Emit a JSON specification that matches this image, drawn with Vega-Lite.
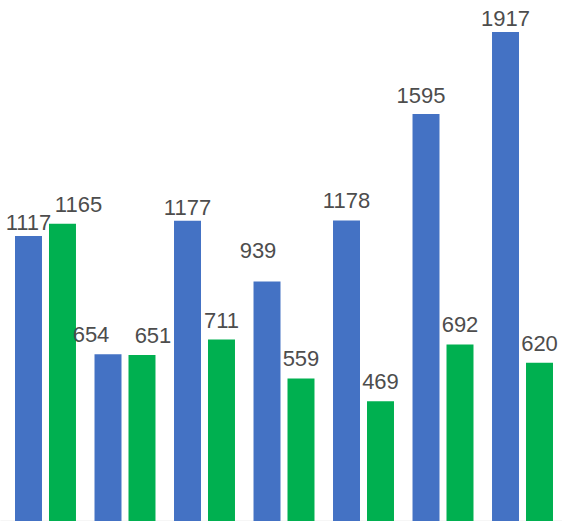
{
  "$schema": "https://vega.github.io/schema/vega-lite/v6.json",
  "width": 562,
  "height": 521,
  "padding": 0,
  "config": {"view": {"stroke": null}, "text": {"fontSize": 22, "font": "Liberation Sans", "color": "#4D4D4D", "baseline": "alphabetic"}},
  "data": {
    "values": [
      {"group": "1", "series": "A", "value": 1117},
      {"group": "1", "series": "B", "value": 1165},
      {"group": "2", "series": "A", "value": 654},
      {"group": "2", "series": "B", "value": 651},
      {"group": "3", "series": "A", "value": 1177},
      {"group": "3", "series": "B", "value": 711},
      {"group": "4", "series": "A", "value": 939},
      {"group": "4", "series": "B", "value": 559},
      {"group": "5", "series": "A", "value": 1178},
      {"group": "5", "series": "B", "value": 469},
      {"group": "6", "series": "A", "value": 1595},
      {"group": "6", "series": "B", "value": 692},
      {"group": "7", "series": "A", "value": 1917},
      {"group": "7", "series": "B", "value": 620}
    ]
  },
  "encoding": {
    "x": {
      "field": "group",
      "type": "nominal",
      "sort": null,
      "scale": {"paddingInner": 0.233, "paddingOuter": 0.151, "align": 0.625},
      "axis": {"labels": false, "ticks": false, "title": null, "domainColor": "#D9D9D9", "domainWidth": 1.5}
    },
    "xOffset": {"field": "series", "type": "nominal", "scale": {"paddingInner": 0.206}},
    "y": {
      "field": "value",
      "type": "quantitative",
      "scale": {"domain": [0, 2042], "nice": false, "zero": true},
      "axis": null
    },
    "text": {"field": "value", "type": "quantitative"}
  },
  "layer": [
    {
      "mark": {"type": "bar"},
      "encoding": {
        "text": null,
        "color": {
          "field": "series",
          "type": "nominal",
          "scale": {"domain": ["A", "B"], "range": ["#4472C4", "#00B050"]},
          "legend": null
        }
      }
    },
    {
      "transform": [{"filter": {"field": "value", "oneOf": [711, 559, 1178, 469, 692, 620]}}],
      "mark": {"type": "text", "dy": -12}
    },
    {
      "transform": [{"filter": {"field": "value", "oneOf": [1595]}}],
      "mark": {"type": "text", "dx": -5, "dy": -11}
    },
    {
      "transform": [{"filter": {"field": "value", "oneOf": [1117, 1917, 1177]}}],
      "mark": {"type": "text", "dy": -6}
    },
    {
      "transform": [{"filter": {"field": "value", "oneOf": [1165]}}],
      "mark": {"type": "text", "dx": 16, "dy": -12}
    },
    {
      "transform": [{"filter": {"field": "value", "oneOf": [654]}}],
      "mark": {"type": "text", "dx": -17, "dy": -12}
    },
    {
      "transform": [{"filter": {"field": "value", "oneOf": [651]}}],
      "mark": {"type": "text", "dx": 11, "dy": -12}
    },
    {
      "transform": [{"filter": {"field": "value", "oneOf": [939]}}],
      "mark": {"type": "text", "dx": -9, "dy": -23}
    }
  ]
}
